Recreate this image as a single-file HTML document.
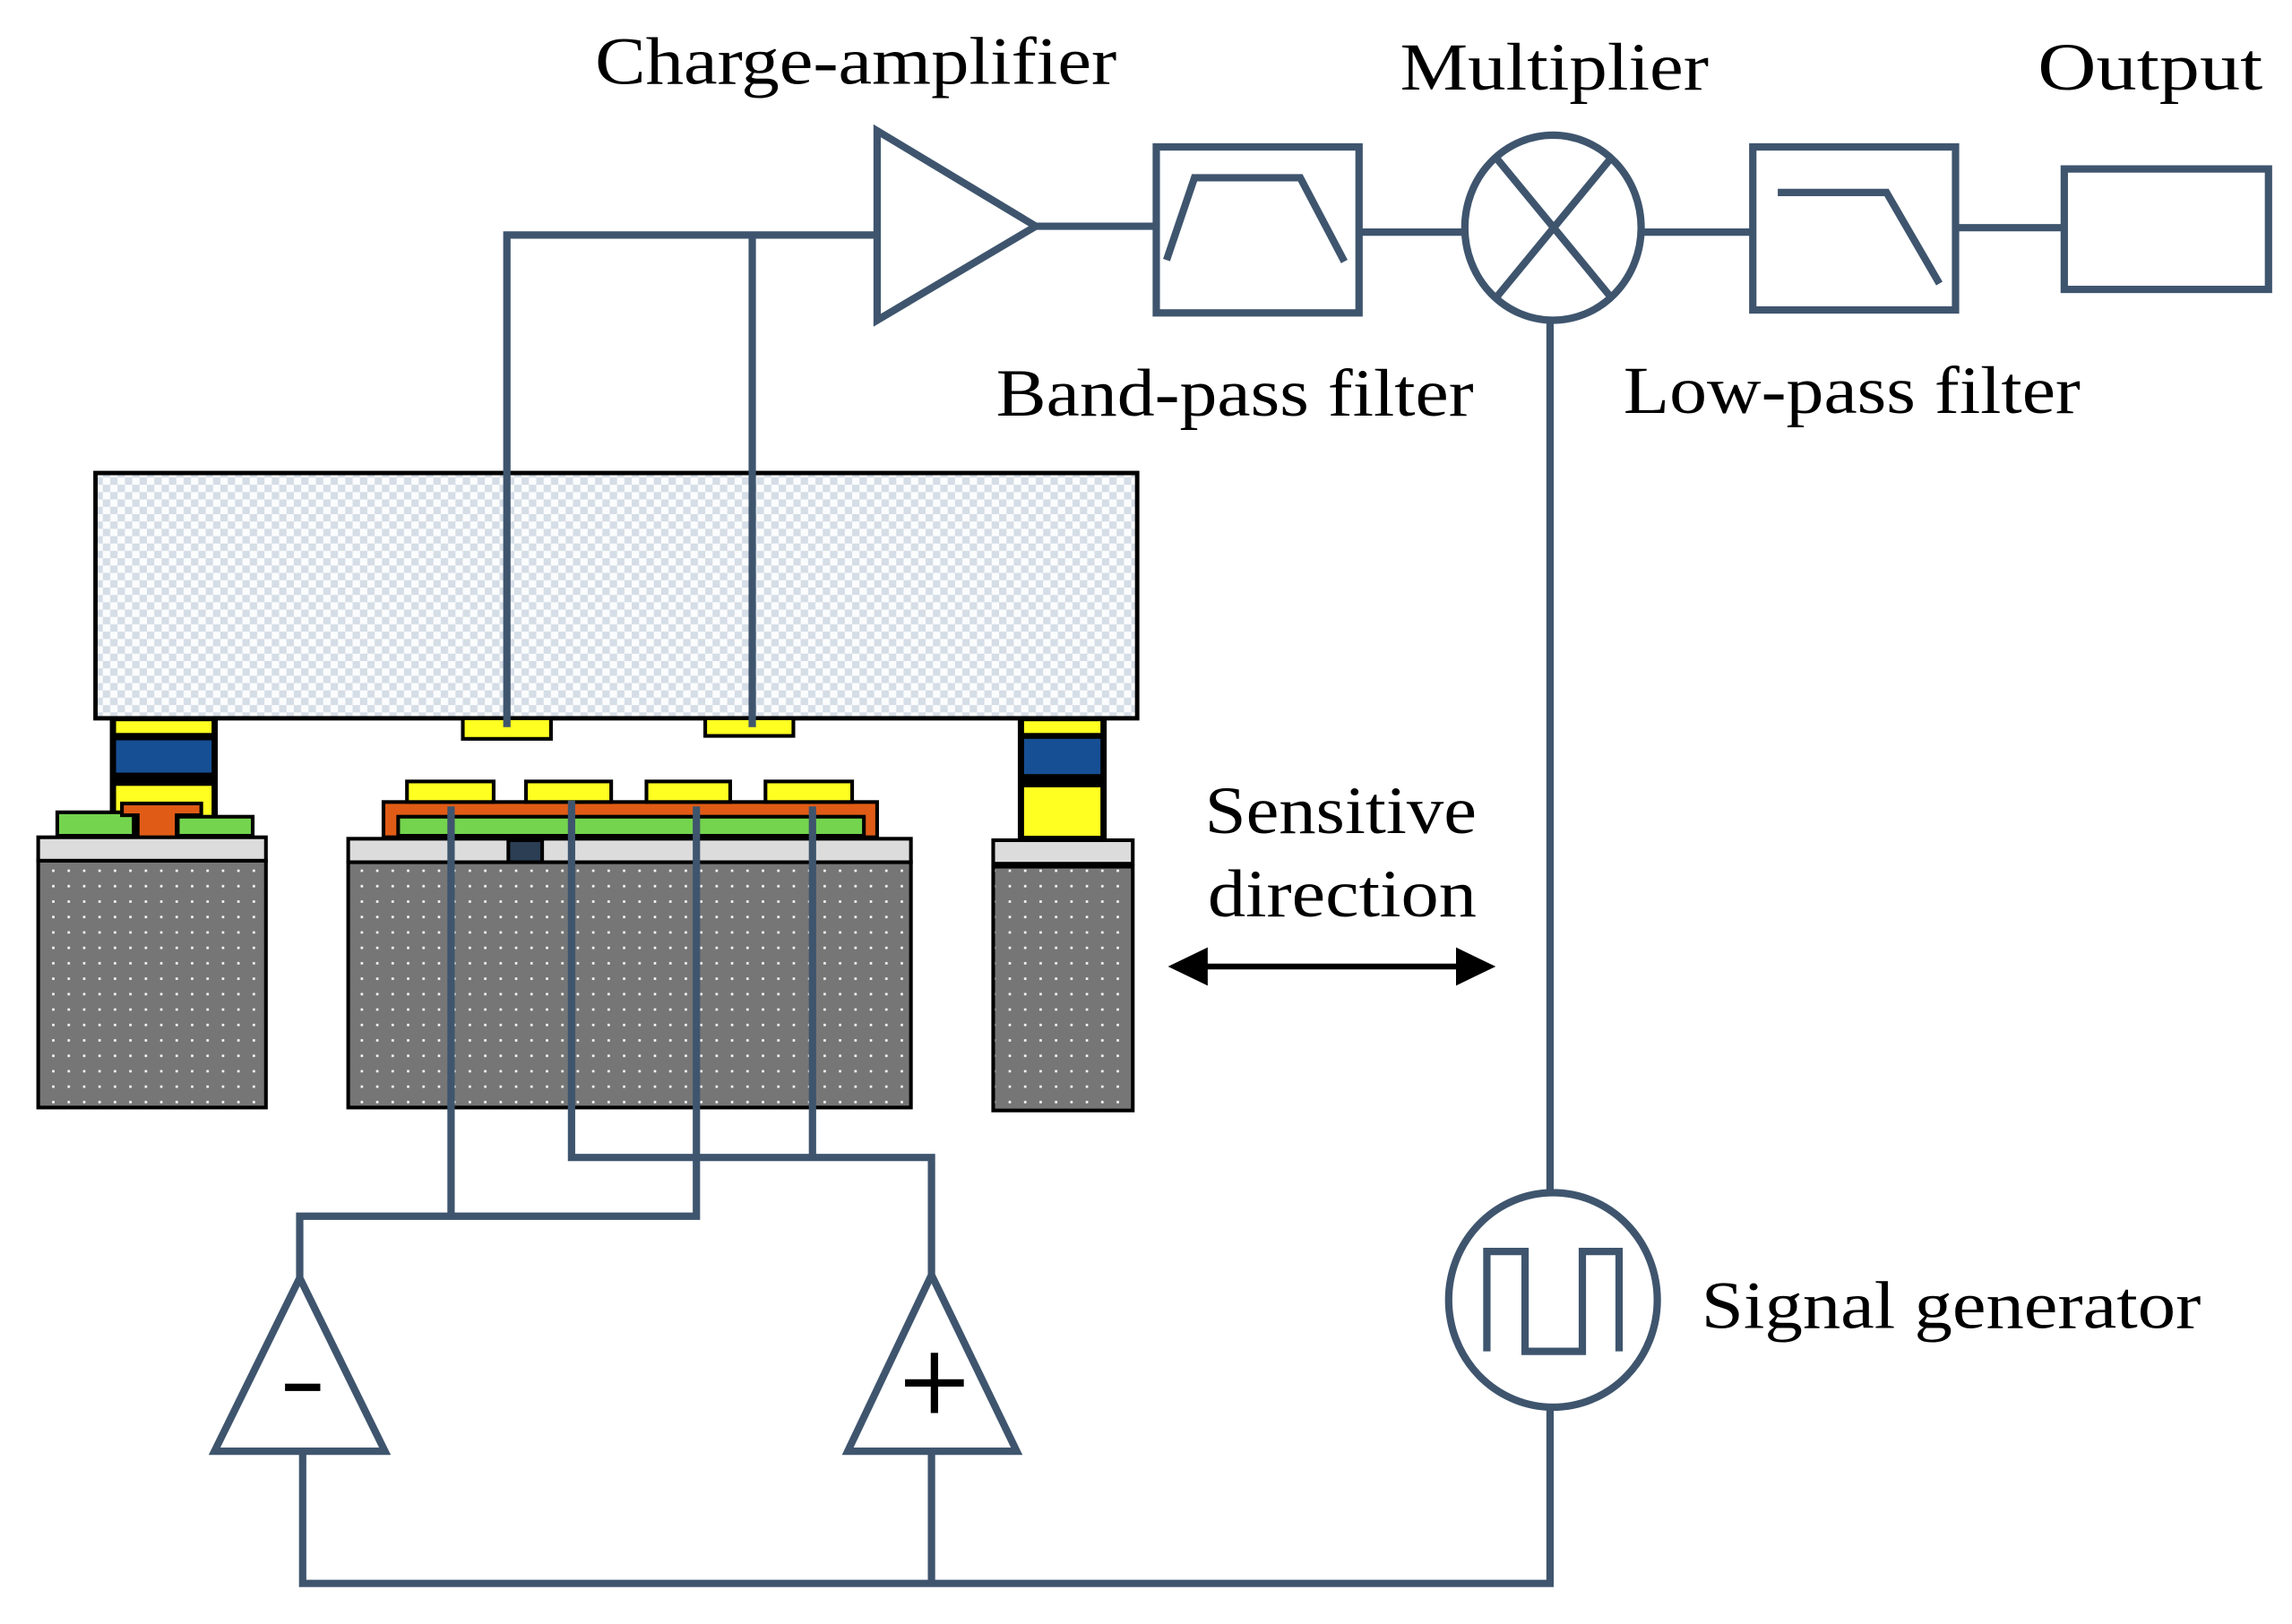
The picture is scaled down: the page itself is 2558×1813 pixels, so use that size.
<!DOCTYPE html>
<html><head><meta charset="utf-8"><style>
html,body{margin:0;padding:0;background:#fff;width:2558px;height:1813px;overflow:hidden}
svg{display:block}
text{font-family:"Liberation Serif",serif;fill:#000}
</style></head><body>
<svg width="2558" height="1813" viewBox="0 0 1560 1105.6" xmlns="http://www.w3.org/2000/svg">
<defs>
<pattern id="chk" width="10" height="10" patternUnits="userSpaceOnUse">
<rect width="10" height="10" fill="#fbfcfd"/>
<rect width="5" height="5" fill="#d5dde6"/><rect x="5" y="5" width="5" height="5" fill="#d5dde6"/>
</pattern>
<pattern id="dot" width="10.5" height="10.5" patternUnits="userSpaceOnUse">
<rect width="10.5" height="10.5" fill="#767676"/>
<rect x="4" y="4" width="1.6" height="1.6" fill="#fff"/>
</pattern>
</defs>

<rect x="65" y="322" width="709" height="167" fill="url(#chk)" stroke="#000" stroke-width="3"/>

<g stroke="#000" stroke-width="2.5">
<rect x="76" y="489" width="71" height="80" fill="#000"/>
<rect x="79" y="491" width="65" height="8" fill="#ffff22" stroke="none"/>
<rect x="79" y="504" width="65" height="22" fill="#174f94" stroke="none"/>
<rect x="79" y="535" width="65" height="20" fill="#ffff22" stroke="none"/>
<rect x="39" y="553" width="52" height="16" fill="#74d44e"/>
<rect x="121" y="556" width="51" height="13" fill="#74d44e"/>
<rect x="83" y="547" width="54" height="8" fill="#e05c16"/>
<rect x="95" y="553" width="24" height="16" fill="#e05c16" stroke="none"/>
<rect x="26" y="570" width="155" height="16" fill="#dcdcdc"/>
<rect x="26" y="586" width="155" height="168" fill="url(#dot)"/>
</g>

<g stroke="#000" stroke-width="2.5">
<rect x="261" y="546" width="336" height="24" fill="#e05c16"/>
<rect x="271" y="556" width="317" height="13" fill="#74d44e"/>
<rect x="277" y="532" width="59" height="14" fill="#ffff22"/>
<rect x="358" y="532" width="58" height="14" fill="#ffff22"/>
<rect x="440" y="532" width="57" height="14" fill="#ffff22"/>
<rect x="521" y="532" width="59" height="14" fill="#ffff22"/>
<rect x="237" y="571" width="383" height="16" fill="#dcdcdc"/>
<rect x="346" y="572" width="23" height="15" fill="#2b3e54"/>
<rect x="237" y="587" width="383" height="167" fill="url(#dot)"/>
</g>
<g stroke="#000" stroke-width="2.5" fill="#ffff22">
<rect x="315" y="489" width="60" height="14"/>
<rect x="480" y="489" width="60" height="12"/>
</g>

<g stroke="#000" stroke-width="2.5">
<rect x="694" y="489" width="58" height="81" fill="#000"/>
<rect x="697" y="491" width="52" height="8" fill="#ffff22" stroke="none"/>
<rect x="697" y="503" width="52" height="24" fill="#174f94" stroke="none"/>
<rect x="697" y="536" width="52" height="33" fill="#ffff22" stroke="none"/>
<rect x="676" y="572" width="95" height="16" fill="#dcdcdc"/>
<rect x="676" y="590" width="95" height="166" fill="url(#dot)"/>
</g>

<g fill="none" stroke="#3f556e" stroke-width="5" stroke-linejoin="miter">
<polyline points="345,495 345,160 597,160"/>
<line x1="512" y1="160" x2="512" y2="495"/>
<polygon points="597,89 597,218 705,154"/>
<line x1="705" y1="154" x2="787" y2="154"/>
<rect x="787" y="100" width="138" height="113"/>
<polyline points="794,177 813,121 885,121 915,178"/>
<line x1="925" y1="158" x2="997" y2="158"/>
<ellipse cx="1057" cy="155" rx="60" ry="63"/>
<line x1="1018" y1="107" x2="1097" y2="203"/>
<line x1="1097" y1="107" x2="1018" y2="203"/>
<line x1="1117" y1="158" x2="1193" y2="158"/>
<rect x="1193" y="100" width="138" height="111"/>
<polyline points="1210,131 1284,131 1320,193"/>
<line x1="1331" y1="155" x2="1405" y2="155"/>
<rect x="1405" y="115" width="139" height="82"/>
<line x1="1055" y1="218" x2="1055" y2="812"/>
<ellipse cx="1057" cy="885" rx="71" ry="73"/>
<polyline points="1012,920 1012,852 1038,852 1038,920 1077,920 1077,852 1102,852 1102,920"/>
<polyline points="1055,958 1055,1078 206,1078 206,988"/>
<line x1="634" y1="1078" x2="634" y2="988"/>
<polygon points="204,870 146,988 262,988"/>
<polygon points="634,868 577,988 692,988"/>
<polyline points="204,870 204,828 474,828 474,549"/>
<line x1="307" y1="549" x2="307" y2="828"/>
<polyline points="634,868 634,788 389,788 389,545"/>
<line x1="553" y1="549" x2="553" y2="790"/>
</g>
<rect x="194" y="942" width="24" height="5" fill="#000"/>
<rect x="616" y="939" width="40" height="5" fill="#000"/>
<rect x="633.5" y="921" width="5" height="41" fill="#000"/>

<line x1="815" y1="658" x2="998" y2="658" stroke="#000" stroke-width="4"/>
<polygon points="795,658 822,645 822,671" fill="#000"/>
<polygon points="1018,658 991,645 991,671" fill="#000"/>

<g font-size="46">
<text x="405" y="57" textLength="355" lengthAdjust="spacingAndGlyphs">Charge-amplifier</text>
<text x="953" y="61" textLength="210" lengthAdjust="spacingAndGlyphs">Multiplier</text>
<text x="1387" y="61" textLength="153" lengthAdjust="spacingAndGlyphs">Output</text>
<text x="678" y="283" textLength="325" lengthAdjust="spacingAndGlyphs">Band-pass filter</text>
<text x="1105" y="281" textLength="311" lengthAdjust="spacingAndGlyphs">Low-pass filter</text>
<text x="820" y="567" textLength="185" lengthAdjust="spacingAndGlyphs">Sensitive</text>
<text x="822" y="624" textLength="183" lengthAdjust="spacingAndGlyphs">direction</text>
<text x="1158" y="904" textLength="340" lengthAdjust="spacingAndGlyphs">Signal generator</text>
</g>
</svg>
</body></html>
